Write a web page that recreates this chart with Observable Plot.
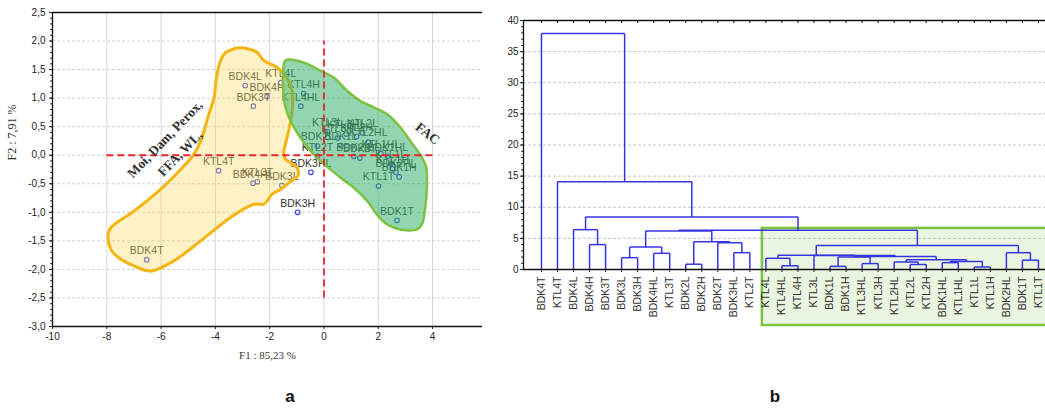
<!DOCTYPE html>
<html><head><meta charset="utf-8">
<script src="https://cdn.jsdelivr.net/npm/d3@7"></script>
<script src="https://cdn.jsdelivr.net/npm/@observablehq/plot@0.6"></script>
<style>
body{margin:0;background:#fff;}
#wrap{position:relative;width:1045px;height:408px;overflow:hidden;background:#fff;font-family:Arial,"Liberation Sans",sans-serif;}
#pa{position:absolute;left:0;top:0;}
#pb{position:absolute;left:500px;top:0;}
.lab{position:absolute;font-weight:bold;font-size:17px;transform:translateX(-50%);color:#111;}
</style></head>
<body>
<div id="wrap"><div id="pa"></div><div id="pb"></div>
<div class="lab" style="left:290px;top:387px">a</div>
<div class="lab" style="left:775px;top:387px">b</div>
</div>
<script>
// ---------- Panel a: PCA scores ----------
const sampleNames = ["BDK4T","KTL4T","BDK4L","KTL4L","BDK4H","KTL4H","BDK3T","KTL4HL","BDK4HL","KTL3T","BDK3L","BDK3HL","BDK3H","KTL2T","BDK2L","KTL3L","KTL3H","KTL3HL","BDK1L","KTL2L","KTL2HL","KTL2H","BDK2H","BDK2T","KTL1HL","KTL1L","KTL1H","BDK1HL","BDK2HL","BDK1H","KTL1T","BDK1T"];
const f1Scores = [-6.53,-3.88,-2.9,-1.59,-2.1,-0.75,-2.6,-0.85,-2.61,-2.45,-1.55,-0.48,-0.97,-0.24,-0.24,0.13,0.5,0.82,0.62,1.42,1.63,1.2,1.1,1.32,2.1,2.46,2.53,2.35,2.65,2.77,2.01,2.69];
const f2Scores = [-1.83,-0.27,1.22,1.27,1.03,1.08,0.86,0.86,-0.49,-0.465,-0.53,-0.3,-1.0,-0.02,0.16,0.41,0.3,0.37,0.17,0.39,0.23,0.33,-0.02,-0.05,0.03,-0.15,-0.24,-0.02,-0.3,-0.38,-0.54,-1.14];

const yellowHullX = [-3.44,-3.2,-2.77,-2.46,-2.22,-1.73,-1.36,-1.17,-1.17,-1.3,-1.42,-1.48,-1.42,-1.23,-0.99,-0.96,-1.11,-1.36,-1.6,-1.91,-2.09,-2.22,-2.58,-3.44,-4.54,-5.53,-6.38,-7.0,-7.55,-7.85,-7.95,-7.85,-7.0,-6.02,-5.1,-4.79,-4.54,-4.24,-4.05,-3.96,-3.81,-3.62];
const yellowHullY = [1.84,1.88,1.86,1.80,1.66,1.54,1.36,1.13,0.78,0.43,0.19,0.05,-0.07,-0.13,-0.22,-0.36,-0.42,-0.51,-0.6,-0.68,-0.8,-0.86,-0.86,-1.09,-1.5,-1.85,-2.03,-1.94,-1.8,-1.65,-1.39,-1.27,-0.98,-0.6,-0.16,0.02,0.25,0.72,1.01,1.36,1.66,1.8];
const greenHullX = [-1.42,-1.11,-0.62,-0.13,0.36,0.85,1.34,1.83,2.32,2.81,3.18,3.61,3.77,3.79,3.73,3.61,3.42,2.81,2.32,1.95,1.59,1.1,0.6,0.24,-0.13,-0.5,-0.87,-1.23,-1.42,-1.5,-1.5];
const greenHullY = [1.66,1.67,1.6,1.48,1.36,1.13,0.95,0.84,0.72,0.49,0.25,-0.04,-0.22,-0.57,-0.92,-1.21,-1.3,-1.3,-1.21,-1.04,-0.8,-0.57,-0.39,-0.25,-0.1,0.08,0.31,0.6,0.84,1.13,1.48];

const redLineV = {x: 0, from: -2.5, to: 2.0};
const redLineH = {y: 0, from: -8, to: 4.05};
const annotText = ["Moi, Dam, Perox,", "FFA, WL,", "FAC"];
const annotX = [-5.86, -5.3, 3.82];
const annotY = [0.28, 0.03, 0.38];
const annotAngle = [-46, -46, 38];

const xTicksA = d3.range(-10, 5, 2);
const yTicksA = d3.range(-3, 2.51, 0.5);

// ---------- Panel b: dendrogram ----------
const leafNames = ["BDK4T","KTL4T","BDK4L","BDK4H","BDK3T","BDK3L","BDK3H","BDK4HL","KTL3T","BDK2L","BDK2H","BDK2T","BDK3HL","KTL2T","KTL4L","KTL4HL","KTL4H","KTL3L","BDK1L","BDK1H","KTL3HL","KTL3H","KTL2HL","KTL2L","KTL2H","BDK1HL","KTL1HL","KTL1L","KTL1H","BDK2HL","BDK1T","KTL1T"];
// [child A, child B, linkage distance]; node ids continue after the 32 leaves
const merges = [
  [3,4,4.0],[2,32,6.4],[5,6,1.9],[7,8,2.6],[34,35,3.6],[9,10,0.85],[12,13,2.7],[11,38,4.3],[37,39,4.45],[36,40,6.2],
  [15,16,0.6],[14,42,1.8],[18,19,0.5],[20,21,0.95],[44,45,2.0],[23,24,0.8],[22,47,1.2],[25,26,1.1],[27,28,0.4],[49,50,1.3],
  [48,51,1.55],[46,52,2.1],[17,53,2.25],[43,54,2.3],[30,31,1.5],[29,56,2.7],[55,57,3.85],[41,58,6.3],[33,59,8.45],[1,60,14.1],[0,61,37.9]
];
const clusterBox = {from: 13.78, to: 33, low: -9, high: 6.6};
const yTicksB = d3.range(0, 41, 5);

const fmtComma = d => (d < 0 ? "-" : "") + Math.abs(d).toFixed(1).replace(".", ",");
const fmtInt = d => (d < 0 ? "-" : "") + Math.abs(d);

const pts = sampleNames.map((n, i) => ({name: n, f1: f1Scores[i], f2: f2Scores[i]}));
const yHull = yellowHullX.map((x, i) => ({x, y: yellowHullY[i]}));
const gHull = greenHullX.map((x, i) => ({x, y: greenHullY[i]}));
const annots = annotText.map((t, i) => ({t, x: annotX[i], y: annotY[i], a: annotAngle[i]}));

const blackRule = {stroke: "#111", strokeWidth: 1.3};
const serif = "'Liberation Serif','DejaVu Serif',serif";

const pa = Plot.plot({
  width: 500, height: 375,
  marginLeft: 52, marginRight: 18, marginTop: 12, marginBottom: 49,
  style: {fontFamily: "Arial,'Liberation Sans',sans-serif", fontSize: "10px", color: "#222", background: "transparent"},
  x: {domain: [-10, 5.84]},
  y: {domain: [-3, 2.5]},
  marks: [
    Plot.ruleX(xTicksA, {stroke: "#d6d6d6", strokeWidth: 1}),
    Plot.ruleY(yTicksA, {stroke: "#d0d0d0", strokeWidth: 1, strokeDasharray: "3,2"}),
    Plot.dot(pts, {x: "f1", y: "f2", r: 2.3, stroke: "#3b3bd6", strokeWidth: 1.1}),
    Plot.text(pts, {x: "f1", y: "f2", text: "name", dy: -9, fill: "#333", fontSize: 10.5}),
    Plot.line(yHull, {x: "x", y: "y", curve: "catmull-rom-closed", fill: "#fbd96a", fillOpacity: 0.38, stroke: "#f4b512", strokeWidth: 3}),
    Plot.line(gHull, {x: "x", y: "y", curve: "catmull-rom-closed", fill: "#3cb371", fillOpacity: 0.55, stroke: "#7cc242", strokeWidth: 2.5}),
    Plot.ruleX([redLineV], {x: "x", y1: "from", y2: "to", stroke: "#e8262e", strokeWidth: 1.8, strokeDasharray: "7,4"}),
    Plot.ruleY([redLineH], {y: "y", x1: "from", x2: "to", stroke: "#e8262e", strokeWidth: 1.8, strokeDasharray: "7,4"}),
    Plot.ruleY([2.5, -3], blackRule),
    Plot.ruleX([-10], blackRule),
    Plot.axisX({ticks: xTicksA, tickSize: 3, tickPadding: 3, tickFormat: fmtInt, label: null}),
    Plot.axisY({ticks: d3.range(-30, 26).map(d => d / 10), tickSize: 2, tickFormat: () => "", label: null}),
    Plot.axisY({ticks: yTicksA, tickSize: 3, tickPadding: 4, tickFormat: fmtComma, label: null}),
    Plot.text(annots, {x: "x", y: "y", text: "t", rotate: "a", fontFamily: serif, fontWeight: "bold", fontSize: 13.5, fill: "#333"}),
    Plot.text(["F1 : 85,23 %"], {text: d => d, frameAnchor: "bottom", dy: 32, fontFamily: serif, fontSize: 11, fill: "#333"}),
    Plot.text(["F2 : 7,91 %"], {text: d => d, frameAnchor: "left", dx: -40, dy: -9, rotate: -90, fontFamily: serif, fontSize: 12, fill: "#333"})
  ]
});
document.getElementById("pa").append(pa);

// dendrogram segments
const pos = leafNames.map((d, i) => i);
const hgt = leafNames.map(() => 0);
const segs = [];
merges.forEach(([a, b, h]) => {
  segs.push({x1: pos[a], y1: hgt[a], x2: pos[a], y2: h});
  segs.push({x1: pos[b], y1: hgt[b], x2: pos[b], y2: h});
  segs.push({x1: pos[a], y1: h, x2: pos[b], y2: h});
  pos.push((pos[a] + pos[b]) / 2);
  hgt.push(h);
});
const leafIdx = leafNames.map((d, i) => i);

const pb = Plot.plot({
  width: 545, height: 330,
  marginLeft: 23, marginRight: 0, marginTop: 20, marginBottom: 61,
  style: {fontFamily: "Arial,'Liberation Sans',sans-serif", fontSize: "10px", color: "#222", background: "transparent"},
  x: {domain: [-1.12, 31.44]},
  y: {domain: [0, 40]},
  marks: [
    Plot.ruleY(d3.range(5, 36, 5), {stroke: "#c4c4c4", strokeWidth: 1, strokeDasharray: "3,2"}),
    Plot.rect([clusterBox], {x1: "from", x2: "to", y1: "low", y2: "high", fill: "#b7dd98", fillOpacity: 0.3, stroke: "#7dc242", strokeWidth: 2.5}),
    Plot.link(segs, {x1: "x1", y1: "y1", x2: "x2", y2: "y2", stroke: "#3535e0", strokeWidth: 1.5}),
    Plot.ruleY([0, 40], blackRule),
    Plot.ruleX([-1.12], blackRule),
    Plot.ruleX(leafIdx, {y1: 40, y2: 39.5, stroke: "#111", strokeWidth: 1}),
    Plot.axisX({ticks: leafIdx, tickSize: 3, tickFormat: () => "", label: null}),
    Plot.axisY({ticks: d3.range(0, 41, 1), tickSize: 2, tickFormat: () => "", label: null}),
    Plot.axisY({ticks: yTicksB, tickSize: 3, tickPadding: 2, label: null}),
    Plot.text(leafNames, {x: (d, i) => i, y: 0, text: d => d, rotate: -90, textAnchor: "end", dy: 7, fontSize: 10.5, fill: "#333"})
  ]
});
document.getElementById("pb").append(pb);
</script>
</body></html>
